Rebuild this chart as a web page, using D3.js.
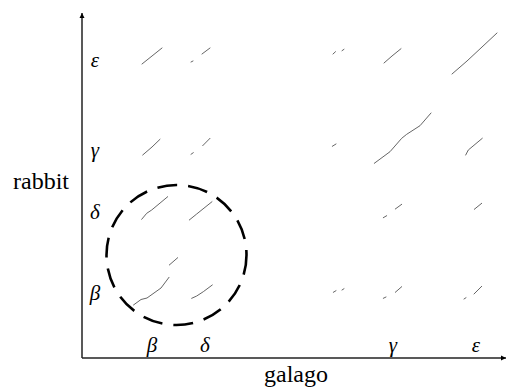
<!DOCTYPE html>
<html>
<head>
<meta charset="utf-8">
<script src="https://cdn.jsdelivr.net/npm/d3@7"></script>
</head>
<body style="margin:0; background:#fff">
<svg id="chart" width="506" height="389" style="display:block"></svg>
<script>
// Dot-plot of the beta-globin gene clusters: galago (x, kb) vs rabbit (y, kb)

const galagoGenes = ["β", "δ", "γ", "ε"];
const galagoGenePos = [7.0, 12.3, 31.1, 39.4];
const rabbitGenes = ["ε", "γ", "δ", "β"];
const rabbitGenePos = [29.8, 20.8, 14.6, 6.5];

// Each matching run is a short polyline of [galago kb, rabbit kb] points
const hitsRabbitEpsilon = [
  [[6.0, 29.4], [7.0, 30.2], [8.0, 31.0]],
  [[10.9, 29.6], [11.1, 29.7]],
  [[12.0, 30.4], [12.8, 31.0]],
  [[25.1, 30.4], [25.35, 30.63]],
  [[26.0, 30.73], [26.2, 30.87]],
  [[30.2, 29.5], [31.0, 30.2], [31.9, 30.93]],
  [[37.0, 28.4], [38.5, 29.7], [40.0, 31.1], [41.5, 32.5]]
];
const hitsRabbitGamma = [
  [[6.07, 20.3], [7.0, 21.1], [7.8, 21.87]],
  [[10.9, 20.37], [11.13, 20.53]],
  [[12.07, 21.23], [12.8, 21.97]],
  [[25.03, 21.17], [25.4, 21.4]],
  [[29.23, 19.47], [30.8, 20.63], [31.97, 21.97], [32.47, 22.37], [33.8, 23.23], [34.9, 24.5]],
  [[38.37, 20.3], [38.63, 20.8], [40.03, 21.97]]
];
const hitsRabbitDelta = [
  [[5.97, 13.87], [6.47, 14.47], [6.97, 14.8], [8.57, 16.13]],
  [[10.73, 13.8], [11.47, 14.4], [13.0, 15.63]],
  [[30.13, 14.03], [30.47, 14.23]],
  [[31.33, 14.9], [31.97, 15.37]],
  [[39.23, 14.87], [39.97, 15.47]]
];
const hitsRabbitBeta = [
  [[5.15, 5.3], [5.9, 5.85], [6.5, 6.0], [7.2, 6.5], [7.9, 7.0], [8.7, 8.07]],
  [[8.73, 9.3], [9.57, 10.03]],
  [[10.97, 5.97], [11.47, 6.2], [12.13, 6.63], [13.03, 7.3]],
  [[25.13, 6.57], [25.4, 6.73]],
  [[26.0, 6.8], [26.2, 6.93]],
  [[30.13, 5.97], [30.4, 6.1]],
  [[31.33, 6.57], [31.97, 7.13]],
  [[38.2, 5.9], [38.4, 6.03]],
  [[39.2, 6.4], [39.97, 7.17]]
];

// Highlighted region: beta/delta block (centre in kb, radius in kb)
const highlightCenter = [9.45, 10.3];
const highlightRadius = 7.0;

const svg = d3.select("#chart");

const x = d3.scaleLinear().domain([0, 42.4]).range([82, 506]);
const y = d3.scaleLinear().domain([0, 34.5]).range([358, 13]);

// Axis arrowheads
const defs = svg.append("defs");
defs.append("marker")
  .attr("id", "arrow")
  .attr("viewBox", "0 0 10 10")
  .attr("refX", 10).attr("refY", 5)
  .attr("markerWidth", 5).attr("markerHeight", 7)
  .attr("markerUnits", "userSpaceOnUse")
  .attr("orient", "auto")
  .append("path")
  .attr("d", "M0,0 L10,5 L0,10 Z")
  .attr("fill", "#000");

const axisColor = "#222";
svg.append("line")
  .attr("x1", x(0)).attr("y1", y(0))
  .attr("x2", x(0)).attr("y2", y(34.5))
  .attr("stroke", axisColor).attr("stroke-width", 1.5)
  .attr("marker-end", "url(#arrow)");
svg.append("line")
  .attr("x1", x(0)).attr("y1", y(0))
  .attr("x2", x(42.4)).attr("y2", y(0))
  .attr("stroke", axisColor).attr("stroke-width", 1.5)
  .attr("marker-end", "url(#arrow)");

// Match segments
const line = d3.line().x(d => x(d[0])).y(d => y(d[1]));
const allHits = [].concat(hitsRabbitEpsilon, hitsRabbitGamma, hitsRabbitDelta, hitsRabbitBeta);
svg.append("g")
  .selectAll("path")
  .data(allHits)
  .join("path")
  .attr("d", line)
  .attr("fill", "none")
  .attr("stroke", "#666")
  .attr("stroke-width", 1)
  .attr("stroke-linecap", "round");

// Dashed circle round the beta/delta block
svg.append("circle")
  .attr("cx", x(highlightCenter[0]))
  .attr("cy", y(highlightCenter[1]))
  .attr("r", x(highlightRadius) - x(0))
  .attr("fill", "none")
  .attr("stroke", "#000")
  .attr("stroke-width", 2.6)
  .attr("stroke-dasharray", "20 11");

// All text in a serif face
const textLayer = svg.append("g").style("font-family", '"Liberation Serif"');

// Gene labels along the axes
textLayer.append("g")
  .selectAll("text")
  .data(galagoGenes)
  .join("text")
  .attr("x", (d, i) => x(galagoGenePos[i]))
  .attr("y", 352)
  .attr("text-anchor", "middle")
  .style("font-style", "italic")
  .style("font-size", "21px")
  .append("tspan")
  .text(d => d);

textLayer.append("g")
  .selectAll("text")
  .data(rabbitGenes)
  .join("text")
  .attr("x", 95)
  .attr("y", (d, i) => y(rabbitGenePos[i]))
  .attr("dy", "0.35em")
  .attr("text-anchor", "middle")
  .style("font-style", "italic")
  .style("font-size", "21px")
  .append("tspan")
  .text(d => d);

// Species names
textLayer.append("text")
  .attr("x", 41).attr("y", 189)
  .attr("text-anchor", "middle")
  .style("font-size", "24px")
  .append("tspan")
  .text("rabbit");

textLayer.append("text")
  .attr("x", 296).attr("y", 382)
  .attr("text-anchor", "middle")
  .style("font-size", "24px")
  .append("tspan")
  .text("galago");
</script>
</body>
</html>
